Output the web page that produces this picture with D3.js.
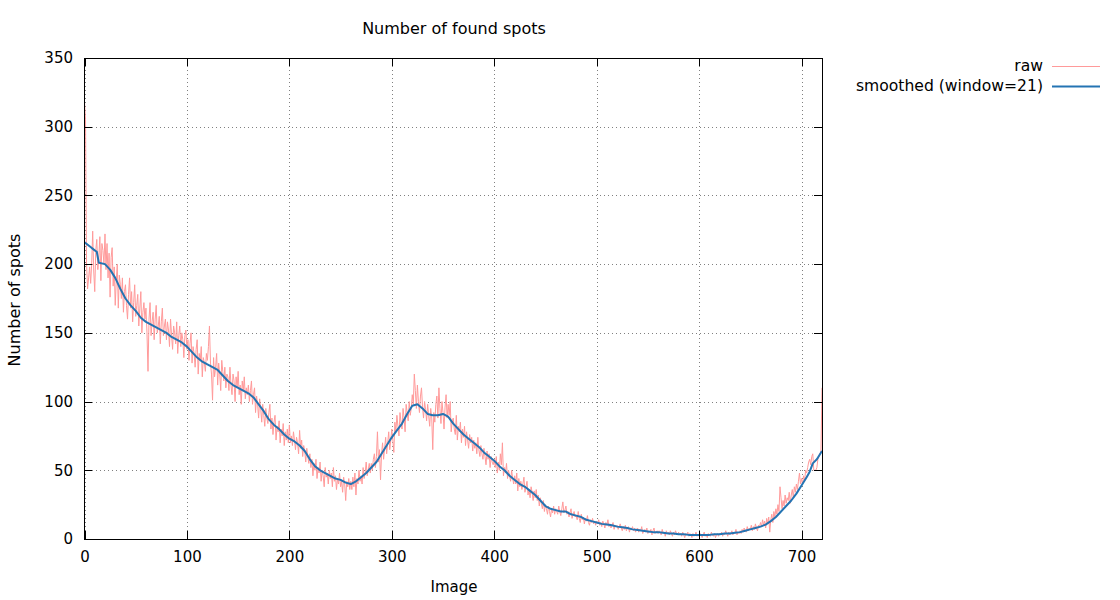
<!DOCTYPE html>
<html lang="en">
<head>
  <meta charset="utf-8">
  <script src="https://d3js.org/d3.v7.min.js"></script>
  <style>
    body {
      margin: 0;
      background: white;
      font-family: "DejaVu Sans", sans-serif;
    }

    .axis text {
      font: 15px "DejaVu Sans", sans-serif;
      fill: #000;
    }

    .axis line {
      stroke: #000;
      shape-rendering: crispEdges;
    }

    .axis path {
      display: none;
    }

    .grid line {
      stroke: #808080;
      stroke-dasharray: 1,3;
      shape-rendering: crispEdges;
    }

    .grid path {
      display: none;
    }
  </style>
</head>
<body>
<div id="chart"></div>
<script>
  // raw spot counts, one per image (0..720)
  var rawCounts = [
    318, 305, 200, 182, 190, 198, 186, 200, 224, 195, 180, 210, 218, 196, 205, 220, 188, 215, 210, 200,
    222, 196, 215, 190, 208, 176, 205, 212, 184, 198, 170, 188, 200, 168, 192, 185, 175, 190, 165, 180,
    185, 170, 160, 178, 190, 168, 180, 158, 172, 185, 162, 170, 178, 155, 168, 180, 150, 165, 172, 160,
    168, 150, 122, 160, 172, 148, 158, 165, 145, 160, 170, 150, 155, 162, 142, 158, 168, 148, 155, 160,
    145, 158, 152, 140, 160, 148, 138, 155, 150, 142, 158, 135, 148, 155, 140, 150, 145, 132, 148, 152,
    138, 145, 130, 142, 150, 128, 140, 135, 125, 138, 145, 120, 135, 130, 140, 118, 132, 128, 122, 135,
    130, 140, 155, 128, 120, 101, 132, 118, 125, 135, 112, 128, 120, 108, 130, 122, 115, 125, 110, 120,
    118, 108, 125, 112, 105, 120, 115, 100, 118, 110, 122, 105, 112, 98, 115, 108, 118, 102, 110, 105,
    112, 100, 108, 115, 98, 105, 110, 92, 104, 98, 88, 102, 95, 85, 98, 90, 82, 95, 88, 84,
    92, 98, 80, 88, 76, 85, 90, 72, 82, 78, 86, 70, 80, 75, 84, 68, 78, 72, 80, 70,
    83, 70, 75, 68, 78, 72, 65, 74, 70, 62, 79, 66, 72, 60, 68, 64, 56, 66, 60, 55,
    62, 52, 58, 46, 55, 50, 58, 44, 52, 48, 56, 42, 50, 46, 38, 52, 45, 48, 40, 50,
    44, 48, 38, 52, 42, 46, 36, 44, 40, 48, 38, 42, 34, 45, 40, 28, 42, 38, 44, 36,
    42, 36, 45, 38, 48, 32, 44, 40, 50, 42, 46, 40, 52, 44, 48, 56, 46, 50, 55, 48,
    55, 50, 58, 62, 52, 60, 78, 56, 65, 43, 62, 70, 58, 66, 74, 62, 70, 78, 65, 72,
    80, 72, 63, 85, 78, 90, 82, 75, 92, 85, 80, 95, 88, 78, 98, 92, 86, 100, 90, 95,
    105, 98, 120, 108, 95, 112, 100, 92, 104, 110, 96, 88, 100, 94, 86, 98, 90, 82, 95, 88,
    65, 92, 85, 98, 104, 88, 110, 95, 84, 100, 92, 80, 96, 105, 88, 98, 90, 100, 78, 86,
    88, 80, 76, 90, 72, 82, 78, 85, 70, 80, 74, 82, 68, 78, 72, 66, 76, 70, 74, 64,
    72, 66, 70, 62, 74, 65, 60, 68, 62, 58, 66, 60, 54, 64, 58, 62, 52, 60, 56, 54,
    58, 52, 60, 48, 56, 50, 62, 54, 70, 46, 52, 48, 55, 44, 50, 46, 42, 50, 44, 40,
    46, 40, 48, 35, 44, 38, 42, 36, 40, 45, 34, 38, 42, 32, 36, 30, 38, 34, 28, 35,
    30, 36, 28, 32, 24, 30, 26, 22, 28, 20, 25, 22, 18, 24, 20, 16, 22, 19, 24, 18,
    22, 20, 18, 24, 20, 17, 22, 27, 19, 21, 24, 18, 20, 16, 19, 22, 15, 18, 20, 16,
    17, 14, 20, 15, 12, 18, 14, 16, 11, 15, 13, 17, 12, 10, 14, 12, 15, 11, 13, 10,
    13, 11, 14, 10, 12, 9, 13, 11, 8, 12, 10, 14, 9, 11, 8, 10, 12, 7, 10, 9,
    10, 7, 9, 11, 8, 6, 9, 7, 10, 6, 8, 9, 5, 8, 7, 9, 6, 8, 5, 7,
    8, 5, 7, 6, 9, 4, 6, 7, 5, 8, 4, 6, 5, 7, 3, 6, 8, 4, 5, 6,
    4, 6, 5, 3, 7, 4, 5, 2, 6, 4, 5, 3, 6, 4, 2, 5, 3, 6, 4, 3,
    5, 3, 4, 2, 5, 3, 1, 4, 3, 5, 2, 4, 3, 1, 4, 2, 3, 5, 2, 3,
    2, 4, 3, 1, 3, 5, 2, 3, 1, 4, 3, 2, 5, 3, 2, 4, 1, 3, 4, 2,
    4, 3, 5, 2, 4, 3, 6, 4, 2, 5, 3, 4, 6, 3, 5, 4, 7, 3, 5, 4,
    6, 4, 7, 5, 8, 6, 5, 9, 6, 8, 7, 10, 6, 9, 7, 11, 8, 6, 10, 9,
    12, 9, 14, 10, 13, 8, 15, 11, 16, 5, 14, 18, 12, 20, 16, 22, 18, 25, 20, 38,
    30, 22, 28, 24, 32, 26, 30, 28, 34, 26, 32, 36, 30, 38, 34, 40, 36, 42, 48, 40,
    44, 40, 46, 42, 50, 48, 52, 56, 58, 54, 60, 62, 50, 50, 50, 52, 58, 60, 62, 64,
    110
  ];

  // smoothed curve (window=21), read every 5 images
  var smoothImages = [
    0, 5, 10, 12, 14, 20, 25, 30, 35, 40, 45, 50, 55, 60, 65, 70, 75, 80, 85, 90, 95,
    100, 105, 110, 115, 120, 125, 130, 135, 140, 145, 150, 155, 160, 165, 170, 175, 180, 185, 190, 195,
    200, 205, 210, 215, 220, 225, 230, 235, 240, 245, 250, 255, 260, 265, 270, 275, 280, 285, 290, 295,
    300, 305, 310, 315, 320, 325, 330, 335, 340, 345, 350, 355, 360, 365, 370, 375, 380, 385, 390, 395,
    400, 405, 410, 415, 420, 425, 430, 435, 440, 445, 450, 455, 460, 465, 470, 475, 480, 485, 490, 495,
    500, 505, 510, 515, 520, 525, 530, 535, 540, 545, 550, 555, 560, 565, 570, 575, 580, 585, 590, 595,
    600, 605, 610, 615, 620, 625, 630, 635, 640, 645, 650, 655, 660, 665, 670, 675, 680, 685, 690, 695,
    700, 705, 708, 711, 715, 720
  ];
  var smoothCounts = [
    216, 213, 210, 209, 201, 200, 196, 190, 182, 175, 170, 166, 161, 158, 156, 154, 152, 150, 147, 145, 143,
    140, 136, 132, 129, 127, 125, 123, 119, 115, 112, 110, 108, 106, 103, 98, 93, 87, 83, 80, 76,
    73, 71, 68, 64, 58, 53, 50, 48, 46, 44, 43, 41, 40, 42, 45, 48, 52, 56, 62, 68,
    74, 79, 84, 91, 97, 98, 95, 91, 90, 90, 91, 89, 84, 80, 76, 73, 70, 67, 63, 60,
    57, 53, 50, 46, 43, 40, 38, 35, 32, 28, 24, 22, 21, 20, 20, 18, 17, 16, 14, 13,
    12, 11, 10.5, 10, 9, 8.5, 8, 7, 6.5, 6, 5.5, 5, 5, 4.5, 4, 4, 3.5, 3.5, 3, 3,
    3, 3, 3, 3.5, 3.5, 4, 4, 4.5, 5, 6, 7, 8, 9, 10.5, 13, 16, 20, 24, 28, 33,
    39, 45, 49, 55, 58, 64
  ];

  var xTicks = [0, 100, 200, 300, 400, 500, 600, 700];
  var yTicks = [0, 50, 100, 150, 200, 250, 300, 350];

  var seriesNames = ["raw", "smoothed (window=21)"];
  var seriesColors = ["#ff9a9a", "#2474b3"];

  var margin = {top: 58, right: 298, bottom: 61, left: 84},
      width = 1120 - margin.left - margin.right,
      height = 600 - margin.top - margin.bottom;

  var svg = d3.select("#chart").append("svg")
      .attr("width", 1120)
      .attr("height", 600)
      .append("g")
      .attr("transform", "translate(" + margin.left + "," + margin.top + ")");

  var x = d3.scaleLinear().domain([0, 720]).range([0.5, width]);
  var y = d3.scaleLinear().domain([0, 350]).range([height, 0]);

  // dotted grid
  svg.append("g")
      .attr("class", "grid")
      .attr("transform", "translate(0," + height + ")")
      .call(d3.axisBottom(x).tickValues(xTicks).tickSize(-height).tickFormat(""));

  svg.append("g")
      .attr("class", "grid")
      .call(d3.axisLeft(y).tickValues(yTicks).tickSize(-width).tickFormat(""));

  var rawLine = d3.line()
      .x(function(d, i) { return x(i); })
      .y(function(d) { return y(d); });

  svg.append("path")
      .datum(rawCounts)
      .attr("fill", "none")
      .attr("stroke", seriesColors[0])
      .attr("stroke-width", 1)
      .attr("d", rawLine);

  var smoothLine = d3.line()
      .x(function(d, i) { return x(smoothImages[i]); })
      .y(function(d) { return y(d); });

  svg.append("path")
      .datum(smoothCounts)
      .attr("fill", "none")
      .attr("stroke", seriesColors[1])
      .attr("stroke-width", 2)
      .attr("stroke-linejoin", "round")
      .attr("d", smoothLine);

  // axes with inward ticks, mirrored on top and right
  svg.append("g")
      .attr("class", "axis")
      .attr("transform", "translate(0," + height + ")")
      .call(d3.axisBottom(x).tickValues(xTicks).tickSize(-8).tickPadding(12));

  svg.append("g")
      .attr("class", "axis")
      .call(d3.axisTop(x).tickValues(xTicks).tickSize(-8).tickFormat(""));

  svg.append("g")
      .attr("class", "axis")
      .call(d3.axisLeft(y).tickValues(yTicks).tickSize(-8).tickPadding(11));

  svg.append("g")
      .attr("class", "axis")
      .attr("transform", "translate(" + width + ",0)")
      .call(d3.axisRight(y).tickValues(yTicks).tickSize(-8).tickFormat(""));

  svg.append("rect")
      .attr("x", 0.5)
      .attr("y", 0.5)
      .attr("width", width - 0.5)
      .attr("height", height)
      .attr("fill", "none")
      .attr("stroke", "#000")
      .attr("stroke-width", 1)
      .attr("shape-rendering", "crispEdges");

  // title and axis labels
  svg.append("text")
      .attr("x", 454 - margin.left)
      .attr("y", 34 - margin.top)
      .attr("text-anchor", "middle")
      .style("font", "16px 'DejaVu Sans', sans-serif")
      .text("Number of found spots");

  svg.append("text")
      .attr("x", 454 - margin.left)
      .attr("y", 592 - margin.top)
      .attr("text-anchor", "middle")
      .style("font", "15px 'DejaVu Sans', sans-serif")
      .text("Image");

  svg.append("text")
      .attr("transform", "rotate(-90)")
      .attr("x", -(300 - margin.top))
      .attr("y", 20 - margin.left)
      .attr("text-anchor", "middle")
      .style("font", "16px 'DejaVu Sans', sans-serif")
      .text("Number of spots");

  // legend
  var legend = svg.selectAll(".legend")
      .data(seriesNames).enter()
      .append("g")
      .attr("class", "legend")
      .attr("transform", function(d, i) { return "translate(0," + (66 + i * 20 - margin.top) + ")"; });

  legend.append("text")
      .attr("x", 1043 - margin.left)
      .attr("y", 5)
      .attr("text-anchor", "end")
      .style("font", "15.6px 'DejaVu Sans', sans-serif")
      .text(function(d) { return d; });

  legend.append("line")
      .attr("x1", 1052 - margin.left)
      .attr("x2", 1100 - margin.left)
      .attr("y1", 0.5)
      .attr("y2", 0.5)
      .attr("stroke", function(d, i) { return seriesColors[i]; })
      .attr("stroke-width", function(d, i) { return i === 0 ? 1 : 2; });
</script>
</body>
</html>
